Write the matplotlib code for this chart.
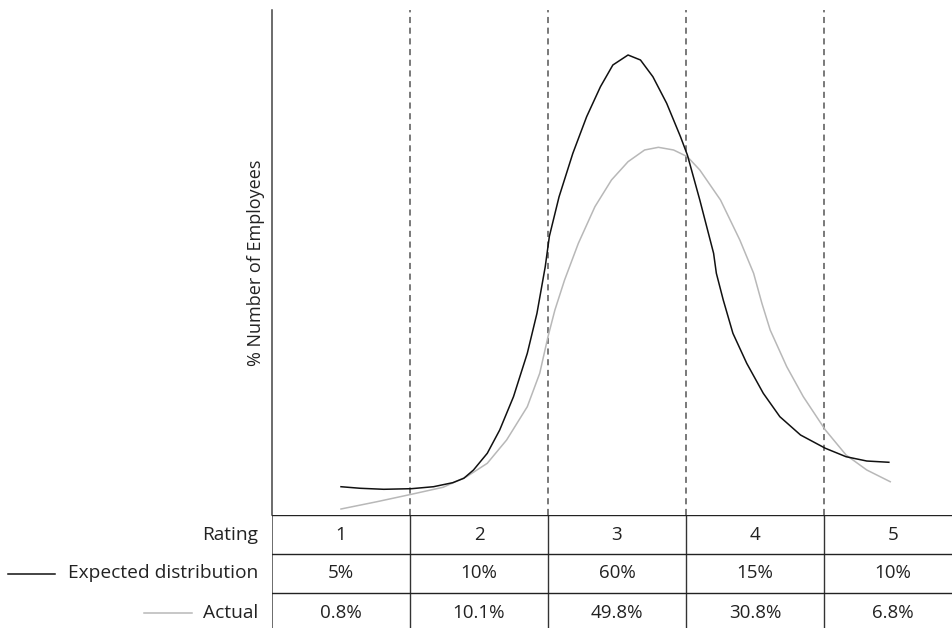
import matplotlib.pyplot as plt
from matplotlib.transforms import blended_transform_factory
from matplotlib.lines import Line2D

plt.rcParams['font.family'] = ['Open Sans', 'DejaVu Sans']

ratings = ['1', '2', '3', '4', '5']
expected_pct = ['5%', '10%', '60%', '15%', '10%']
actual_pct = ['0.8%', '10.1%', '49.8%', '30.8%', '6.8%']

# curves (x = rating position, y = relative height)
expected_x = [1.00, 1.14, 1.31, 1.51, 1.67, 1.81, 1.89, 1.96, 2.06, 2.15, 2.25, 2.35,
              2.42, 2.48, 2.51, 2.58, 2.68, 2.78, 2.88, 2.97, 3.08, 3.17, 3.26, 3.36,
              3.46, 3.51, 3.60, 3.70, 3.72, 3.77, 3.84, 3.94, 4.06, 4.18, 4.33, 4.51,
              4.66, 4.81, 4.97]
expected_y = [5.60, 5.29, 5.09, 5.21, 5.60, 6.40, 7.27, 8.91, 12.22, 16.83, 23.43, 32.02,
              39.94, 49.17, 55.20, 63.00, 71.62, 78.87, 84.81, 89.11, 91.09, 90.10, 86.79, 81.52,
              74.91, 71.29, 62.38, 51.82, 47.86, 42.57, 35.98, 30.04, 24.10, 19.47, 15.84, 13.21,
              11.54, 10.69, 10.44]

actual_x = [1.00, 1.26, 1.51, 1.74, 1.91, 2.06, 2.20, 2.35, 2.44, 2.50, 2.55, 2.62,
            2.72, 2.84, 2.96, 3.08, 3.20, 3.30, 3.41, 3.51, 3.60, 3.75, 3.89, 3.99,
            4.05, 4.11, 4.23, 4.35, 4.51, 4.66, 4.81, 4.98]
actual_y = [1.19, 2.63, 4.10, 5.49, 7.58, 10.24, 14.85, 21.45, 28.06, 35.31, 40.59, 46.53,
            53.80, 61.05, 66.34, 69.96, 72.28, 72.81, 72.28, 70.95, 68.32, 62.38, 54.46, 47.86,
            41.92, 36.63, 29.37, 23.43, 16.83, 11.88, 8.91, 6.59]

W, H = 953, 628
fig = plt.figure(figsize=(W / 100, H / 100), dpi=100)

left = 272 / W
col_w = 138
xmax = 0.5 + (W - 272) / col_w

ax = fig.add_axes([left, (H - 515) / H, 1 - left, (515 - 10) / H])
ax.set_xlim(0.5, xmax)
ax.set_ylim(0, 100)
for s in ['top', 'right', 'bottom']:
    ax.spines[s].set_visible(False)
ax.spines['left'].set_color('#444444')
ax.spines['left'].set_linewidth(1.1)
ax.set_xticks([])
ax.set_yticks([])
ax.set_ylabel('% Number of Employees', fontsize=13, color='#222222', labelpad=5)

for b in [1.5, 2.5, 3.5, 4.5]:
    ax.axvline(b, color='#555555', lw=1.1, ls=(0, (4, 3)))

ax.plot(actual_x, actual_y, color='#b8b8b8', lw=1.1, solid_joinstyle='round')
ax.plot(expected_x, expected_y, color='#111111', lw=1.1, solid_joinstyle='round')

# table below the chart
tab = fig.add_axes([left, -4 / H, 1 - left, 117 / H])
tab.set_xlim(0.5, xmax)
tab.set_ylim(3, 0)
tab.axis('off')
tab.axvline(0.5, color='#444444', lw=1.1)
for b in [1.5, 2.5, 3.5, 4.5]:
    tab.axvline(b, color='#333333', lw=1)
for r in [0, 1, 2]:
    tab.axhline(r, color='#222222', lw=1)

rows = [ratings, expected_pct, actual_pct]
for r, vals in enumerate(rows):
    for i, v in enumerate(vals):
        tab.text(i + 1, r + 0.5, v, ha='center', va='center', fontsize=13.5, color='#222222')

tr = blended_transform_factory(fig.transFigure, tab.transData)
labels = ['Rating', 'Expected distribution', 'Actual']
for r, lab in enumerate(labels):
    tab.text(258 / W, r + 0.5, lab, transform=tr, ha='right', va='center',
             fontsize=13.8, color='#222222')

fig.add_artist(Line2D([8 / W, 55 / W], [1.5, 1.5], transform=tr, color='#111111', lw=1.1))
fig.add_artist(Line2D([144 / W, 192 / W], [2.5, 2.5], transform=tr, color='#b8b8b8', lw=1.1))

fig.savefig('out.png', dpi=100)
